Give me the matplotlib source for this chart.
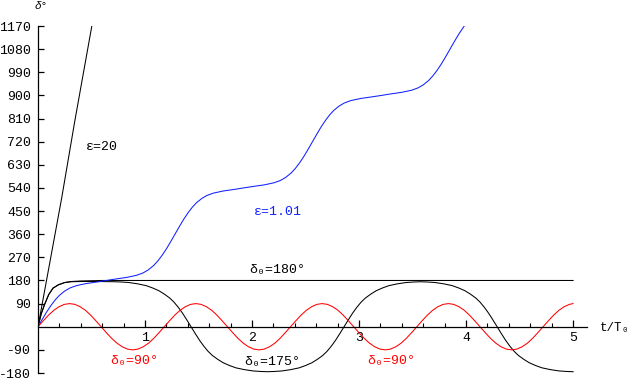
# pendulum_delta.py
# δ(t) for the pendulum: rotation, separatrix and oscillation curves

import matplotlib
matplotlib.use("Agg")
import matplotlib.pyplot as plt
from matplotlib.ticker import FixedLocator

# ─────────────────────────────────────────────
# data
# ─────────────────────────────────────────────

# ε = 20 (fast rotation)
t_eps20 = [0, 0.221, 0.345, 0.503]
d_eps20 = [0, 500, 803, 1170]

# ε = 1.01 (slow rotation)
t_eps101 = [0, 0.04, 0.08, 0.12, 0.16, 0.20, 0.25, 0.30, 0.36, 0.45, 0.55, 0.64,
            0.73, 0.83, 0.92, 0.98, 1.03, 1.08, 1.12, 1.16, 1.20, 1.24, 1.28,
            1.32, 1.36, 1.40, 1.44, 1.48, 1.53, 1.58, 1.64, 1.73, 1.83, 1.92,
            2.015, 2.115, 2.205, 2.265, 2.315, 2.365, 2.405, 2.445, 2.485, 2.525, 2.565,
            2.605, 2.645, 2.685, 2.725, 2.765, 2.815, 2.865, 2.925, 3.015, 3.115, 3.21,
            3.30, 3.40, 3.49, 3.55, 3.60, 3.65, 3.69, 3.73, 3.77, 3.81, 3.85,
            3.89, 3.93, 3.97, 3.983]
d_eps101 = [0, 29, 57, 82, 104, 122, 139, 151, 160, 168, 174, 180,
            186, 192, 200, 209, 221, 238, 256, 278, 303, 331, 360,
            389, 417, 442, 464, 482, 499, 511, 520, 528, 534, 540,
            546, 552, 560, 569, 581, 598, 616, 638, 663, 691, 720,
            749, 777, 802, 824, 842, 859, 871, 880, 888, 894, 900,
            906, 912, 920, 929, 941, 958, 976, 998, 1023, 1051, 1080,
            1109, 1137, 1162, 1170]

# δ0 = 180° (separatrix)
t_d180 = [0, 0.03, 0.06, 0.10, 0.14, 0.19, 0.25, 0.31, 0.40, 0.60, 5.0]
d_d180 = [0, 50, 85, 125, 150, 163, 172, 176, 178, 180, 180]

# δ0 = 175°
t_d175 = [0, 0.03, 0.06, 0.10, 0.14, 0.19, 0.25, 0.31, 0.40, 0.55, 0.72,
          0.78, 0.85, 0.93, 1.01, 1.07, 1.13, 1.18, 1.23, 1.27, 1.31, 1.35, 1.39, 1.43,
          1.47, 1.51, 1.55, 1.59, 1.63, 1.68, 1.73, 1.79, 1.85, 1.93, 2.01, 2.08, 2.145,
          2.21, 2.28, 2.36, 2.44, 2.50, 2.56, 2.61, 2.66, 2.70, 2.74, 2.78, 2.82, 2.86,
          2.90, 2.94, 2.98, 3.02, 3.06, 3.11, 3.16, 3.22, 3.28, 3.36, 3.44, 3.51, 3.575,
          3.64, 3.71, 3.79, 3.87, 3.93, 3.99, 4.04, 4.09, 4.13, 4.17, 4.21, 4.25, 4.29,
          4.33, 4.37, 4.41, 4.45, 4.49, 4.54, 4.59, 4.65, 4.71, 4.79, 4.87, 4.94, 5.0]
d_d175 = [0, 50, 85, 125, 150, 163, 172, 175, 176, 176, 175,
          174, 172, 167, 160, 151, 140, 127, 112, 96, 76, 53, 27, 0,
          -27, -53, -76, -96, -112, -127, -140, -151, -160, -167, -172, -174, -175,
          -174, -172, -167, -160, -151, -140, -127, -112, -96, -76, -53, -27, 0,
          27, 53, 76, 96, 112, 127, 140, 151, 160, 167, 172, 174, 175,
          174, 172, 167, 160, 151, 140, 127, 112, 96, 76, 53, 27, 0,
          -27, -53, -76, -96, -112, -127, -140, -151, -160, -167, -172, -174, -175]

# δ0 = 90°
t_d90 = [0, 0.049, 0.098, 0.148, 0.197, 0.246, 0.295, 0.344, 0.393, 0.443, 0.492, 0.541,
         0.59, 0.639, 0.688, 0.738, 0.787, 0.836, 0.885, 0.934, 0.983, 1.033, 1.082, 1.131,
         1.18, 1.229, 1.278, 1.328, 1.377, 1.426, 1.475, 1.524, 1.573, 1.623, 1.672, 1.721,
         1.77, 1.819, 1.868, 1.918, 1.967, 2.016, 2.065, 2.114, 2.163, 2.213, 2.262, 2.311,
         2.36, 2.409, 2.458, 2.508, 2.557, 2.606, 2.655, 2.704, 2.753, 2.803, 2.852, 2.901,
         2.95, 2.999, 3.048, 3.098, 3.147, 3.196, 3.245, 3.294, 3.343, 3.393, 3.442, 3.491,
         3.54, 3.589, 3.638, 3.688, 3.737, 3.786, 3.835, 3.884, 3.933, 3.983, 4.032, 4.081,
         4.13, 4.179, 4.228, 4.278, 4.327, 4.376, 4.425, 4.474, 4.523, 4.573, 4.622, 4.671,
         4.72, 4.769, 4.818, 4.868, 4.917, 4.966, 5.0]
d_d90 = [0, 23, 45, 64, 78, 87, 90, 87, 78, 64, 45, 23,
         0, -23, -45, -64, -78, -87, -90, -87, -78, -64, -45, -23,
         0, 23, 45, 64, 78, 87, 90, 87, 78, 64, 45, 23,
         0, -23, -45, -64, -78, -87, -90, -87, -78, -64, -45, -23,
         0, 23, 45, 64, 78, 87, 90, 87, 78, 64, 45, 23,
         0, -23, -45, -64, -78, -87, -90, -87, -78, -64, -45, -23,
         0, 23, 45, 64, 78, 87, 90, 87, 78, 64, 45, 23,
         0, -23, -45, -64, -78, -87, -90, -87, -78, -64, -45, -23,
         0, 23, 45, 64, 78, 87, 90]

y_ticks = [-180, -90, 90, 180, 270, 360, 450, 540, 630, 720, 810, 900, 990, 1080, 1170]
x_ticks = [1, 2, 3, 4, 5]
x_minor = [0.2, 0.4, 0.6, 0.8, 1.2, 1.4, 1.6, 1.8, 2.2, 2.4, 2.6, 2.8,
           3.2, 3.4, 3.6, 3.8, 4.2, 4.4, 4.6, 4.8]

# ─────────────────────────────────────────────
# style
# ─────────────────────────────────────────────

FONT = ["Liberation Mono", "DejaVu Sans Mono", "DejaVu Sans"]
plt.rcParams["font.family"] = FONT
plt.rcParams["axes.unicode_minus"] = False

BLACK = "#000000"
BLUE = "#1020ff"
RED = "#ff0000"
LW = 0.75
FS = 9.5

# ─────────────────────────────────────────────
# figure
# ─────────────────────────────────────────────

fig = plt.figure(figsize=(6.33, 3.79), dpi=100, facecolor="white")
ax = fig.add_axes([38 / 633, 6 / 379, 549 / 633, 347 / 379])
ax.set_xlim(0, 5.13)
ax.set_ylim(-180, 1170)

ax.plot(t_eps20, d_eps20, color=BLACK, lw=LW)
ax.plot(t_d180, d_d180, color=BLACK, lw=LW)
ax.plot(t_d175, d_d175, color=BLACK, lw=LW)
ax.plot(t_eps101, d_eps101, color=BLUE, lw=LW)
ax.plot(t_d90, d_d90, color=RED, lw=LW)

# axes through the origin
for side in ("top", "right"):
    ax.spines[side].set_visible(False)
ax.spines["left"].set_position(("data", 0))
ax.spines["bottom"].set_position(("data", 0))
for side in ("left", "bottom"):
    ax.spines[side].set_linewidth(0.9)

ax.yaxis.set_major_locator(FixedLocator(y_ticks))
ax.set_yticklabels([str(v) for v in y_ticks])
ax.xaxis.set_major_locator(FixedLocator(x_ticks))
ax.xaxis.set_minor_locator(FixedLocator(x_minor))
ax.set_xticklabels([str(v) for v in x_ticks])

ax.tick_params(axis="y", direction="in", length=4, width=0.9, pad=5, labelsize=FS)
ax.tick_params(axis="x", which="major", direction="in", length=5, width=0.9, pad=4, labelsize=FS)
ax.tick_params(axis="x", which="minor", direction="in", length=3, width=0.8)

# ───── labels ─────
fig.text(35 / 633, 1 - 6 / 379, "δ°", fontsize=8, ha="left", va="center", style="italic")
fig.text(600 / 633, 1 - 328 / 379, "t/T₀", fontsize=9, ha="left", va="center")

ax.text(0.45, 700, "ε=20", color=BLACK, fontsize=FS, ha="left", va="center")
ax.text(2.24, 447, "ε=1.01", color=BLUE, fontsize=FS, ha="center", va="center")
ax.text(2.24, 221, "δ₀=180°", color=BLACK, fontsize=FS, ha="center", va="center")
ax.text(2.19, -136, "δ₀=175°", color=BLACK, fontsize=FS, ha="center", va="center")
ax.text(0.90, -132, "δ₀=90°", color=RED, fontsize=FS, ha="center", va="center")
ax.text(3.30, -132, "δ₀=90°", color=RED, fontsize=FS, ha="center", va="center")

fig.savefig("out.png", dpi=100, facecolor="white")
plt.close(fig)
